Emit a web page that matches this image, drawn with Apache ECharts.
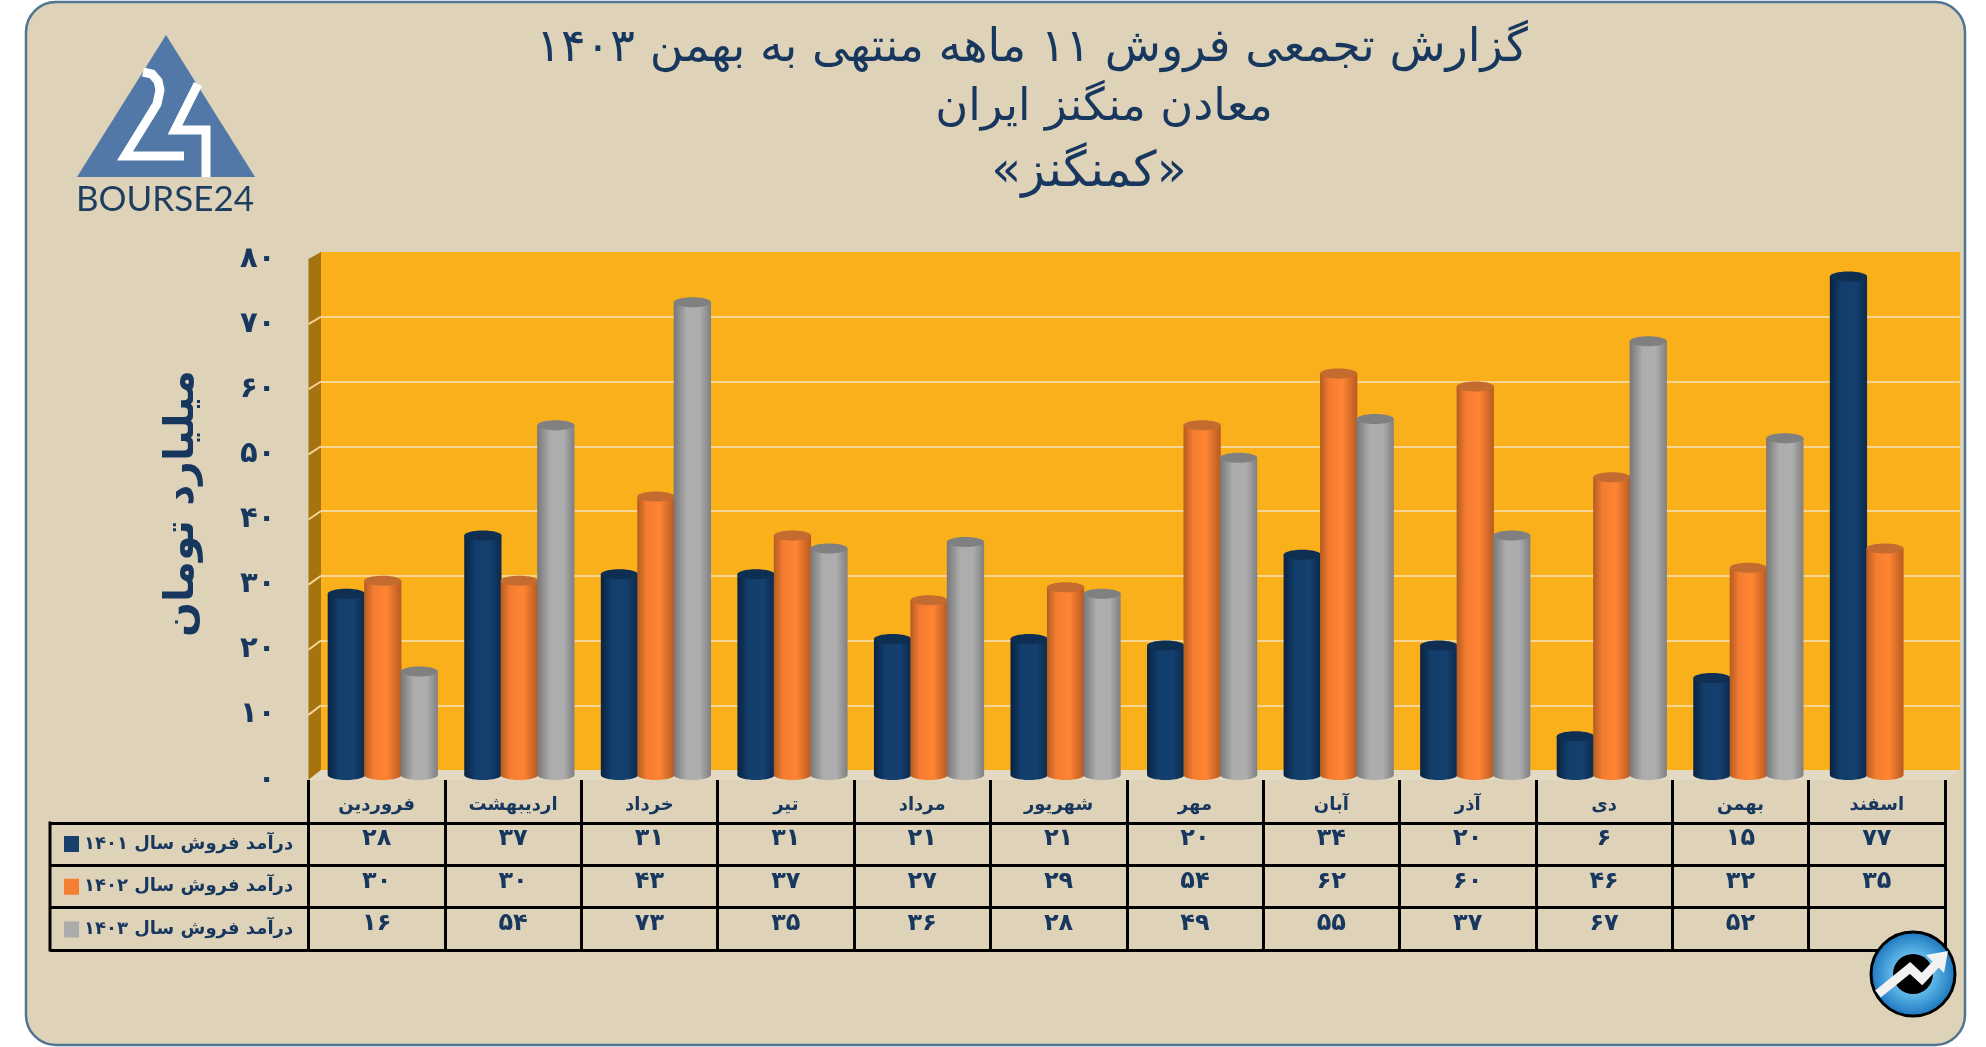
<!DOCTYPE html>
<html>
<head>
<meta charset="utf-8">
<title>کمنگنز</title>
<style>
html,body{margin:0;padding:0;background:#fff;}
#main{width:1986px;height:1047px;}
</style>
<script src="https://cdn.jsdelivr.net/npm/echarts@6/dist/echarts.min.js"></script>
</head>
<body>
<div id="main"></div>
<script>
var months = ['فروردین','اردیبهشت','خرداد','تیر','مرداد','شهریور','مهر','آبان','آذر','دی','بهمن','اسفند'];
var seriesNames = ['درآمد فروش سال ۱۴۰۱','درآمد فروش سال ۱۴۰۲','درآمد فروش سال ۱۴۰۳'];
var sales1401 = [28,37,31,31,21,21,20,34,20,6,15,77];
var sales1402 = [30,30,43,37,27,29,54,62,60,46,32,35];
var sales1403 = [16,54,73,35,36,28,49,55,37,67,52,null];
var yTicks = [0,10,20,30,40,50,60,70,80];
var titleLines = ['گزارش تجمعی فروش ۱۱ ماهه منتهی به بهمن ۱۴۰۳','معادن منگنز ایران','«کمنگنز»'];
var yAxisName = 'میلیارد تومان';

var INK = '#17375E';
var FONT = '"DejaVu Sans", sans-serif';
// 3d box corners, back wall and front edge
var WALL = {left:321, right:1960, top:252, bottom:770};
var EDGE = {left:308.5, right:1945, top:259, bottom:780};

function toFa(n){
	return String(n).replace(/\d/g, function(d){ return '۰۱۲۳۴۵۶۷۸۹'.charAt(+d); });
}

function hGradient(stops){
	return new echarts.graphic.LinearGradient(0,0,1,0,stops);
}

// one cylinder per data item, slot is -1/0/1 inside the month band
function cylinder(slot, body, topColor){
	return function(params, api){
		var v = api.value(1);
		if (v == null || isNaN(v)) { return; }
		var top = api.coord([api.value(0), v]);
		var base = api.coord([api.value(0), 0]);
		var w = api.size([1,0])[0] * 0.267;
		var rx = w / 2 + 0.4;
		var ry = 5;
		var cx = top[0] + slot * w;
		var fill = hGradient(body);
		return {
			type:'group',
			children:[
				{type:'ellipse', shape:{cx:cx, cy:base[1], rx:rx, ry:ry}, style:{fill:fill}},
				{type:'rect', shape:{x:cx-rx, y:top[1], width:rx*2, height:base[1]-top[1]}, style:{fill:fill}},
				{type:'ellipse', shape:{cx:cx, cy:top[1], rx:rx, ry:ry}, style:{fill:topColor}}
			]
		};
	};
}

function renderCell(params, api){
	var p = api.coord([api.value(0), api.value(1)]);
	return {
		type:'text',
		style:{
			x:p[0], y:p[1]-5, text:toFa(api.value(2)),
			align:'center', verticalAlign:'middle',
			font:'bold 24px "DejaVu Sans", sans-serif', fill:INK
		}
	};
}

function barData(values){
	var out = [];
	for (var i=0;i<months.length;i++) { out.push([months[i], values[i]]); }
	return out;
}

function tableCells(){
	var rows = [sales1401, sales1402, sales1403];
	var out = [];
	for (var r=0;r<rows.length;r++) {
		for (var c=0;c<months.length;c++) {
			if (rows[r][c] != null) { out.push([months[c], seriesNames[r], rows[r][c]]); }
		}
	}
	return out;
}

function sideWall(){
	var items = [{
		type:'polygon', z:1, silent:true,
		shape:{points:[[EDGE.left,EDGE.top],[WALL.left,WALL.top],[WALL.left,WALL.bottom],[EDGE.left,EDGE.bottom]]},
		style:{fill:'#A5730F'}
	},{
		type:'polygon', z:1, silent:true,
		shape:{points:[[EDGE.left,EDGE.bottom],[WALL.left,WALL.bottom],[WALL.right,WALL.bottom],[EDGE.right,EDGE.bottom]]},
		style:{fill:'#E4DAC3'}
	}];
	for (var i=1;i<yTicks.length-1;i++) {
		var t = yTicks[i] / 80;
		items.push({
			type:'line', z:1, silent:true,
			shape:{
				x1:EDGE.left, y1:EDGE.bottom-(EDGE.bottom-EDGE.top)*t,
				x2:WALL.left, y2:WALL.bottom-(WALL.bottom-WALL.top)*t
			},
			style:{stroke:'#F7D694', lineWidth:2}
		});
	}
	return items;
}

function logo(){
	return [
		{type:'polygon', z:3, silent:true, shape:{points:[[166,35],[77,177],[255,177]]}, style:{fill:'#5178A6'}},
		{type:'polyline', z:3, silent:true, shape:{points:[[143,72],[152,74],[158,81],[160,90],[157,104],[125,156],[184,156]]},
			style:{fill:null, stroke:'#fff', lineWidth:9}},
		{type:'polyline', z:3, silent:true, shape:{points:[[198,84],[175,130],[206,130],[206,177]]},
			style:{fill:null, stroke:'#fff', lineWidth:9}},
		{type:'text', z:3, silent:true, style:{x:165, y:200, text:'BOURSE24', align:'center', verticalAlign:'middle',
			font:'35px Lato, sans-serif', fill:'#1F3D5F'}}
	];
}

function badge(){
	return [
		{type:'circle', z:5, silent:true, shape:{cx:1913, cy:974, r:42},
			style:{
				fill:new echarts.graphic.RadialGradient(0.5,0.5,0.5,[
					{offset:0,color:'#BFE3F6'},{offset:0.55,color:'#55AEE2'},{offset:1,color:'#1873BC'}
				]),
				stroke:'#000', lineWidth:3
			}},
		{type:'circle', z:5, silent:true, shape:{cx:1913, cy:974, r:20}, style:{fill:'#000'}},
		{type:'polyline', z:5, silent:true, shape:{points:[[1878,994],[1910,968],[1922,979],[1938,962]]},
			style:{fill:null, stroke:'#F2F2F2', lineWidth:9}},
		{type:'polygon', z:5, silent:true, shape:{points:[[1948,951],[1926,955],[1944,973]]}, style:{fill:'#F2F2F2'}}
	];
}

var myChart = echarts.init(document.getElementById('main'), null, {renderer:'canvas'});

var option = {
	animation:false,
	backgroundColor:'#fff',
	textStyle:{fontFamily:FONT},
	title:[
		{text:titleLines[0], left:1027, top:44, textAlign:'center', textVerticalAlign:'middle', textStyle:{fontSize:46, fontWeight:'normal', color:INK, fontFamily:FONT}},
		{text:titleLines[1], left:1099, top:103, textAlign:'center', textVerticalAlign:'middle', textStyle:{fontSize:45, fontWeight:'normal', color:INK, fontFamily:FONT}},
		{text:titleLines[2], left:1084, top:168, textAlign:'center', textVerticalAlign:'middle', textStyle:{fontSize:49, fontWeight:'normal', color:INK, fontFamily:FONT}}
	],
	legend:{
		data:seriesNames,
		orient:'vertical',
		left:59, top:830,
		itemWidth:15, itemHeight:16, itemGap:24.7,
		icon:'rect',
		selectedMode:false,
		textStyle:{fontSize:18, fontWeight:'bold', color:INK, fontFamily:FONT, padding:[0,0,6,0]}
	},
	grid:[
		{left:WALL.left, top:WALL.top, width:WALL.right-WALL.left, height:WALL.bottom-WALL.top, show:true, backgroundColor:'#FAB01B', borderWidth:0},
		{left:EDGE.left, top:EDGE.top, width:EDGE.right-EDGE.left, height:EDGE.bottom-EDGE.top},
		{left:314.5, top:257, width:1638.7, height:518},
		{left:EDGE.left, top:823, width:EDGE.right-EDGE.left, height:127}
	],
	xAxis:[
		{gridIndex:0, type:'category', data:months, show:false},
		{gridIndex:1, type:'category', data:months, show:false},
		{gridIndex:2, type:'category', data:months, show:false},
		{
			gridIndex:3, type:'category', data:months, position:'top',
			axisLine:{show:true, lineStyle:{color:'#000', width:3}},
			axisTick:{show:true, length:43, interval:0, lineStyle:{color:'#000', width:3}},
			axisLabel:{show:true, interval:0, margin:9, fontSize:18, fontWeight:'bold', color:INK, fontFamily:FONT},
			splitLine:{show:true, interval:0, lineStyle:{color:'#000', width:3}}
		}
	],
	yAxis:[
		{
			gridIndex:0, type:'value', min:0, max:80, interval:10,
			axisLine:{show:false}, axisTick:{show:false}, axisLabel:{show:false},
			splitLine:{show:true, showMinLine:false, showMaxLine:false, lineStyle:{color:'#F7D694', width:2}}
		},
		{
			gridIndex:1, type:'value', min:0, max:80, interval:10,
			name:yAxisName, nameLocation:'middle', nameGap:106, nameRotate:90,
			nameTextStyle:{fontSize:41, fontWeight:'bold', color:INK, fontFamily:FONT, padding:[0,0,0,32]},
			axisLine:{show:false}, axisTick:{show:false}, splitLine:{show:false},
			axisLabel:{margin:33, fontSize:29, fontWeight:'bold', color:INK, fontFamily:FONT, formatter:function(v){ return toFa(v); }}
		},
		{gridIndex:2, type:'value', min:0, max:80, interval:10, show:false, splitLine:{show:false}},
		{
			gridIndex:3, type:'category', data:seriesNames, inverse:true,
			axisLine:{show:true, lineStyle:{color:'#000', width:3}},
			axisTick:{show:true, length:258.5, interval:0, lineStyle:{color:'#000', width:3}},
			axisLabel:{show:false},
			splitLine:{show:true, interval:0, lineStyle:{color:'#000', width:3}}
		}
	],
	graphic:{elements:[
		{type:'rect', z:-1, silent:true, shape:{x:26, y:2, width:1939, height:1043, r:30}, style:{fill:'#DED3B9', stroke:'#4F7591', lineWidth:2.5}},
		{type:'line', z:2, silent:true, shape:{x1:50, y1:821.5, x2:50, y2:951.5}, style:{stroke:'#000', lineWidth:3}}
	].concat(sideWall(), logo(), badge())},
	series:[
		{
			name:seriesNames[0], type:'custom', xAxisIndex:2, yAxisIndex:2, z:3, silent:true,
			itemStyle:{color:'#17406D'},
			renderItem:cylinder(-1, [{offset:0,color:'#0A2240'},{offset:0.3,color:'#123E6C'},{offset:0.7,color:'#143F6E'},{offset:1,color:'#0C2A4C'}], '#0E2E52'),
			encode:{x:0, y:1},
			data:barData(sales1401)
		},
		{
			name:seriesNames[1], type:'custom', xAxisIndex:2, yAxisIndex:2, z:4, silent:true,
			itemStyle:{color:'#F47F31'},
			renderItem:cylinder(0, [{offset:0,color:'#B45C20'},{offset:0.25,color:'#F47C30'},{offset:0.6,color:'#FF8533'},{offset:1,color:'#B85A20'}], '#C46B30'),
			encode:{x:0, y:1},
			data:barData(sales1402)
		},
		{
			name:seriesNames[2], type:'custom', xAxisIndex:2, yAxisIndex:2, z:5, silent:true,
			itemStyle:{color:'#ABABAB'},
			renderItem:cylinder(1, [{offset:0,color:'#777'},{offset:0.35,color:'#ADADAD'},{offset:0.7,color:'#ADADAD'},{offset:1,color:'#808080'}], '#808080'),
			encode:{x:0, y:1},
			data:barData(sales1403)
		},
		{
			name:'cells', type:'custom', xAxisIndex:3, yAxisIndex:3, z:3, silent:true, clip:false,
			renderItem:renderCell,
			encode:{x:0, y:1},
			dimensions:['month','row','value'],
			data:tableCells()
		}
	]
};
myChart.setOption(option);
</script>
</body>
</html>
